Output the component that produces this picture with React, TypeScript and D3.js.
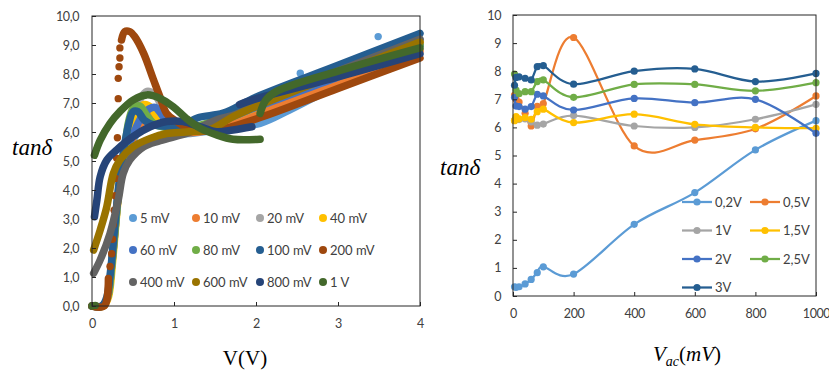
import { useEffect, useRef } from "react";
import * as d3 from "d3";

type Pt = [number, number];

// ---------- left panel: tanδ against DC bias, one sweep per AC amplitude
const sweepLabels = ["5 mV", "10 mV", "20 mV", "40 mV", "60 mV", "80 mV", "100 mV", "200 mV", "400 mV", "600 mV", "800 mV", "1 V"];
const sweepColors = ["#5B9BD5", "#ED7D31", "#A5A5A5", "#FFC000", "#4472C4", "#70AD47", "#255E91", "#9E480E", "#636363", "#997300", "#264478", "#43682B"];

const mv5: Pt[] = [[0, 0], [0.12, 0], [0.18, 0.2], [0.23, 1.2], [0.27, 2.4], [0.31, 3.6], [0.35, 4.5], [0.4, 5.1], [0.48, 5.6], [0.58, 6.1], [0.68, 6.5], [0.77, 6.6], [0.86, 6.4], [0.95, 6.1], [1.1, 5.95], [1.2, 5.95], [1.6, 6.1], [2.05, 6.3], [2.4, 6.75], [2.75, 7.25], [3.2, 7.95], [3.6, 8.5], [4.0, 9.0]];
const mv5Dots: Pt[] = [[2.54, 8.03], [3.49, 9.29]];
const mv10: Pt[] = [[0, 0], [0.13, 0], [0.19, 0.3], [0.24, 1.4], [0.28, 2.6], [0.32, 3.8], [0.36, 4.6], [0.42, 5.2], [0.5, 5.8], [0.6, 6.3], [0.7, 6.6], [0.8, 6.5], [0.9, 6.2], [1.0, 6.0], [1.3, 6.0], [1.6, 6.2], [2.0, 6.6], [3.0, 7.7], [4.0, 8.8]];
const mv20: Pt[] = [[0, 0], [0.13, 0], [0.19, 0.3], [0.24, 1.5], [0.28, 2.8], [0.32, 4.0], [0.36, 4.8], [0.42, 5.6], [0.5, 6.5], [0.58, 7.1], [0.67, 7.4], [0.76, 7.3], [0.85, 6.9], [0.95, 6.4], [1.1, 6.15], [1.3, 6.2], [1.6, 6.5], [2.0, 6.9], [3.0, 8.0], [4.0, 9.2]];
const mv40: Pt[] = [[0, 0], [0.14, 0], [0.2, 0.3], [0.25, 1.5], [0.29, 2.8], [0.33, 4.0], [0.37, 4.8], [0.43, 5.5], [0.5, 6.3], [0.57, 6.8], [0.64, 6.95], [0.72, 6.85], [0.8, 6.5], [0.9, 6.2], [1.05, 6.05], [1.3, 6.1], [1.6, 6.4], [2.0, 6.85], [3.0, 8.0], [4.0, 9.1]];
const mv60: Pt[] = [[0, 0], [0.13, 0], [0.19, 0.3], [0.24, 1.4], [0.28, 2.6], [0.32, 3.8], [0.36, 4.6], [0.42, 5.3], [0.5, 5.9], [0.6, 6.5], [0.7, 6.8], [0.77, 6.85], [0.85, 6.6], [0.93, 6.3], [1.05, 6.1], [1.3, 6.15], [1.6, 6.4], [2.0, 6.85], [3.0, 7.9], [4.0, 9.0]];
const mv80: Pt[] = [[0, 0], [0.13, 0], [0.19, 0.3], [0.24, 1.4], [0.28, 2.6], [0.32, 3.8], [0.36, 4.7], [0.4, 5.5], [0.45, 6.4], [0.5, 6.8], [0.58, 6.9], [0.66, 6.6], [0.75, 6.3], [0.9, 6.15], [1.1, 6.1], [1.4, 6.3], [2.0, 6.95], [3.0, 8.0], [4.0, 9.0]];
const mv100: Pt[] = [[0, 0], [0.12, 0], [0.18, 0.3], [0.23, 1.3], [0.27, 2.5], [0.31, 3.7], [0.35, 4.7], [0.4, 5.6], [0.45, 6.3], [0.5, 6.7], [0.56, 6.7], [0.64, 6.4], [0.75, 6.25], [0.9, 6.2], [1.1, 6.25], [1.3, 6.5], [1.6, 6.65], [2.0, 7.2], [3.0, 8.3], [4.0, 9.4]];
const mv200Low: Pt[] = [[0, 0], [0.15, 0], [0.2, 0.95]];
const mv200Dots: Pt[] = [[0.22, 1.36], [0.24, 1.8], [0.25, 2.3], [0.26, 2.8], [0.27, 3.3], [0.28, 3.8], [0.29, 4.4], [0.3, 5.1], [0.31, 5.8], [0.32, 7.15], [0.32, 7.85], [0.33, 8.25], [0.34, 8.55], [0.34, 8.9]];
const mv200: Pt[] = [[0.36, 9.17], [0.4, 9.46], [0.46, 9.46], [0.52, 9.29], [0.63, 8.71], [0.75, 7.8], [0.83, 7.2], [0.91, 6.64], [1.01, 6.4], [1.2, 6.1], [1.5, 6.05], [2.0, 6.45], [3.0, 7.5], [4.0, 8.55]];
const mv400: Pt[] = [[0.02, 1.13], [0.1, 1.59], [0.22, 2.5], [0.32, 3.66], [0.38, 4.57], [0.46, 5.03], [0.63, 5.49], [0.83, 5.7], [1.2, 6.0], [1.5, 6.4], [1.75, 6.6], [2.0, 6.95], [3.0, 8.1], [4.0, 9.2]];
const mv600: Pt[] = [[0.02, 1.93], [0.1, 2.62], [0.18, 3.42], [0.26, 4.57], [0.34, 5.03], [0.5, 5.49], [0.71, 5.78], [0.91, 5.95], [1.15, 6.0], [1.45, 6.1], [1.7, 6.5], [1.9, 6.76], [3.0, 8.0], [4.0, 9.1]];
const mv800: Pt[] = [[0.03, 3.08], [0.06, 3.66], [0.1, 4.46], [0.18, 5.03], [0.3, 5.38], [0.5, 5.84], [0.71, 6.18], [0.91, 6.36], [1.11, 6.36], [1.32, 6.18], [1.52, 6.01], [1.72, 6.07], [1.95, 6.18]];
const mv800Tail: Pt[] = [[1.8, 6.95], [1.95, 7.1], [3.0, 7.9], [4.0, 8.7]];
const v1: Pt[] = [[0.03, 5.2], [0.1, 5.72], [0.22, 6.3], [0.34, 6.7], [0.5, 7.1], [0.67, 7.28], [0.83, 7.16], [0.99, 6.87], [1.15, 6.47], [1.32, 6.13], [1.52, 5.9], [1.72, 5.75], [2.05, 5.75]];
const v1Tail: Pt[] = [[2.05, 6.64], [2.12, 7.1], [2.25, 7.4], [3.0, 8.1], [4.0, 8.9]];
const v1Dots: Pt[] = [[0.0, 0.0], [0.04, 0.02]];

const sweepParts: Pt[][][] = [[mv5], [mv10], [mv20], [mv40], [mv60], [mv80], [mv100], [mv200Low, mv200], [mv400], [mv600], [mv800, mv800Tail], [v1, v1Tail]];
const sweepDots: Pt[][] = [mv5Dots, [], [], [], [], [], [], mv200Dots, [], [], [], v1Dots];

const leftXTicks = [0, 1, 2, 3, 4];
const leftYTicks = [0, 1, 2, 3, 4, 5, 6, 7, 8, 9, 10];

// ---------- right panel: tanδ against AC amplitude, one line per DC bias
const vac = [5, 10, 20, 40, 60, 80, 100, 200, 400, 600, 800, 1000];
const biasLabels = ["0,2V", "0,5V", "1V", "1,5V", "2V", "2,5V", "3V"];
const biasColors = ["#5B9BD5", "#ED7D31", "#A5A5A5", "#FFC000", "#4472C4", "#70AD47", "#255E91"];
const b02 = [0.33, 0.31, 0.33, 0.43, 0.59, 0.83, 1.04, 0.78, 2.55, 3.68, 5.2, 6.24];
const b05 = [7.15, 7.0, 6.9, 6.5, 6.05, 6.75, 6.85, 9.2, 5.34, 5.55, 5.95, 7.12];
const b10 = [6.25, 6.3, 6.28, 6.3, 6.2, 6.08, 6.12, 6.42, 6.05, 6.0, 6.29, 6.82];
const b15 = [6.24, 6.38, 6.3, 6.35, 6.29, 6.56, 6.65, 6.17, 6.47, 6.11, 6.0, 5.97];
const b20 = [7.07, 6.76, 6.74, 6.65, 6.74, 7.18, 7.12, 6.62, 7.03, 6.88, 7.0, 5.79];
const b25 = [7.9, 7.33, 7.2, 7.27, 7.27, 7.63, 7.69, 7.07, 7.53, 7.53, 7.3, 7.59];
const b30 = [7.5, 7.78, 7.8, 7.75, 7.69, 8.16, 8.2, 7.54, 8.0, 8.08, 7.63, 7.92];
const biasSeries = [b02, b05, b10, b15, b20, b25, b30];

const rightXTicks = [0, 200, 400, 600, 800, 1000];
const rightYTicks = [0, 1, 2, 3, 4, 5, 6, 7, 8, 9, 10];

const xL = d3.scaleLinear().domain([0, 4]).range([92, 420]);
const yL = d3.scaleLinear().domain([0, 10]).range([306, 16]);
const xR = d3.scaleLinear().domain([0, 1000]).range([513, 816]);
const yR = d3.scaleLinear().domain([0, 10]).range([296, 15]);

const tickFont = "Lato, 'Open Sans', sans-serif";
const mathFont = "'Liberation Serif', 'DejaVu Serif', serif";

const Axis = ({ orient, scale, values, format, tx, ty, pad }: any) => {
  const ref = useRef<SVGGElement>(null);
  useEffect(() => {
    const gen = orient === "bottom" ? d3.axisBottom(scale) : d3.axisLeft(scale);
    gen.tickValues(values).tickFormat(format).tickSizeInner(-4).tickSizeOuter(0).tickPadding(pad);
    const g = d3.select(ref.current!);
    g.call(gen as any);
    g.attr("font-family", tickFont).attr("font-size", 12.5);
    g.select(".domain").remove();
    g.selectAll(".tick line").attr("stroke", "#262626");
    g.selectAll(".tick text").attr("fill", "#404040").attr("letter-spacing", "-0.4px");
  }, []);
  return <g ref={ref} transform={`translate(${tx},${ty})`} />;
};

const commaFmt = (d: number) => d3.format(".1f")(d).replace(".", ",");

export default function App() {
  const bandLine = d3
    .line<Pt>()
    .x((d) => xL(d[0]))
    .y((d) => yL(d[1]))
    .curve(d3.curveCatmullRom.alpha(0.5));

  const biasLine = d3
    .line<number>()
    .x((_, i) => xR(vac[i]))
    .y((d) => yR(d))
    .curve(d3.curveCardinal.tension(0));

  return (
    <svg width={829} height={372} style={{ position: "absolute", left: 0, top: 0, background: "#fff" }}>
      {/* left chart */}
      <g>
        {sweepParts.map((parts, i) => (
          <g key={i}>
            {parts.map((p, j) => (
              <path key={j} d={bandLine(p) || ""} fill="none" stroke={sweepColors[i]} strokeWidth={7.5} strokeLinecap="round" strokeLinejoin="round" />
            ))}
            {sweepDots[i].map((d, j) => (
              <circle key={"d" + j} cx={xL(d[0])} cy={yL(d[1])} r={3.7} fill={sweepColors[i]} />
            ))}
          </g>
        ))}
        <rect x={92} y={16} width={328} height={290} fill="none" stroke="#262626" strokeWidth={1} />
        <Axis orient="bottom" scale={xL} values={leftXTicks} format={d3.format("d")} tx={0} ty={306} pad={13} />
        <Axis orient="left" scale={yL} values={leftYTicks} format={commaFmt} tx={92} ty={0} pad={13} />
        {sweepLabels.map((name, i) => {
          const col = i % 4;
          const row = Math.floor(i / 4);
          const mx = [133, 196, 260, 323][col];
          const my = 218 + row * 32;
          return (
            <g key={name}>
              <circle cx={mx} cy={my} r={4} fill={sweepColors[i]} />
              <text x={mx + 7} y={my + 4.5} fontFamily={tickFont} fontSize={13} fill="#404040">
                {name}
              </text>
            </g>
          );
        })}
        <text x={12} y={155} fontFamily={mathFont} fontStyle="italic" fontSize={23} fill="#000">
          tanδ
        </text>
        <text x={245} y={365} textAnchor="middle" fontFamily={mathFont} fontSize={21} fill="#000">
          V(V)
        </text>
      </g>

      {/* right chart */}
      <g>
        {biasSeries.map((s, i) => (
          <g key={biasLabels[i]}>
            <path d={biasLine(s) || ""} fill="none" stroke={biasColors[i]} strokeWidth={2.25} />
            {s.map((v, j) => (
              <circle key={j} cx={xR(vac[j])} cy={yR(v)} r={3.6} fill={biasColors[i]} />
            ))}
          </g>
        ))}
        <rect x={513} y={15} width={303} height={281} fill="none" stroke="#262626" strokeWidth={1} />
        <Axis orient="bottom" scale={xR} values={rightXTicks} format={d3.format("d")} tx={0} ty={296} pad={13} />
        <Axis orient="left" scale={yR} values={rightYTicks} format={d3.format("d")} tx={513} ty={0} pad={12} />
        {biasLabels.map((name, i) => {
          const col = i % 2;
          const row = Math.floor(i / 2);
          const lx = col === 0 ? 682 : 750;
          const ly = 202 + row * 28.5;
          return (
            <g key={name}>
              <line x1={lx} x2={lx + 30} y1={ly} y2={ly} stroke={biasColors[i]} strokeWidth={2.25} />
              <circle cx={lx + 15} cy={ly} r={3.6} fill={biasColors[i]} />
              <text x={lx + 33} y={ly + 4.5} fontFamily={tickFont} fontSize={13} fill="#404040">
                {name}
              </text>
            </g>
          );
        })}
        <text x={440} y={175} fontFamily={mathFont} fontStyle="italic" fontSize={23} fill="#000">
          tanδ
        </text>
        <text x={653} y={361} fontFamily={mathFont} fontSize={21} fill="#000">
          <tspan fontStyle="italic">V</tspan>
          <tspan fontStyle="italic" fontSize={14} dy={5}>ac</tspan>
          <tspan dy={-5}>(</tspan>
          <tspan fontStyle="italic">mV</tspan>
          <tspan>)</tspan>
        </text>
      </g>
    </svg>
  );
}
